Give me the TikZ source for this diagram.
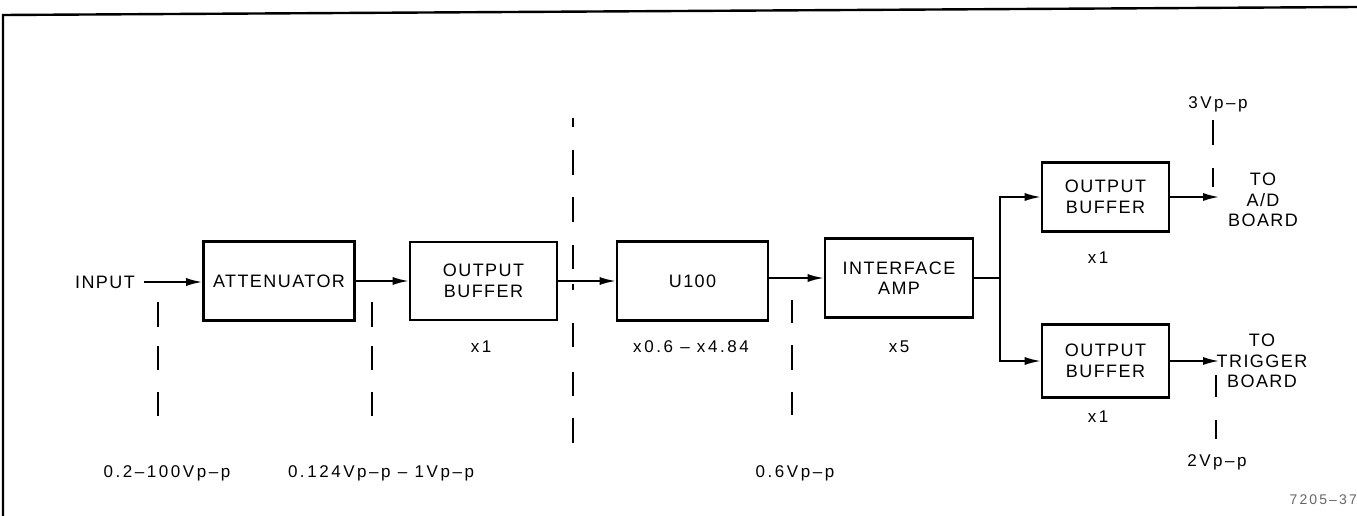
\documentclass[tikz,border=0pt]{standalone}
\usepackage{fontspec}
\setmainfont{Liberation Sans}
\newfontfamily\bxf[LetterSpace=8]{Liberation Sans}
\newfontfamily\lbf[LetterSpace=15]{Liberation Sans}
\usetikzlibrary{arrows.meta}
\tikzset{
  blk/.style={draw, line width=2.6pt, inner sep=0pt, align=center,
    font=\bxf\fontsize{18}{20.5}\selectfont},
  txt/.style={inner sep=0pt, align=center, font=\bxf\fontsize{18}{20.5}\selectfont},
  lbl/.style={inner sep=0pt, font=\lbf\fontsize{17}{18}\selectfont},
  arr/.style={line width=1.7pt, -{Latex[length=16pt,width=8pt]}},
  wire/.style={line width=1.7pt},
  dsh/.style={line width=1.8pt},
}
\begin{document}
\begin{tikzpicture}[x=1pt,y=-1pt]
\useasboundingbox (0,0) rectangle (1357,516);
% frame
\draw[line width=2.4pt] (3,516) -- (3,15) -- (1357,7);

% blocks
\node[blk, minimum width=151pt, minimum height=79pt] (att) at (279,281) {ATTENUATOR};
\node[blk, minimum width=147pt, minimum height=78pt] (ob1) at (483.5,281) {OUTPUT\\BUFFER};
\node[blk, minimum width=151pt, minimum height=79pt] (u100) at (692.5,281) {U100};
\node[blk, minimum width=148pt, minimum height=79pt] (ia) at (899,278) {INTERFACE\\AMP};
\node[blk, minimum width=127pt, minimum height=69pt] (ob2) at (1105.5,197) {OUTPUT\\BUFFER};
\node[blk, minimum width=127pt, minimum height=73pt] (ob3) at (1105.5,361) {OUTPUT\\BUFFER};

% text nodes
\node[txt] (in) at (105,282) {INPUT};
\node[txt] (ad) at (1263,200) {TO\\A/D\\BOARD};
\node[txt] (trig) at (1262,361) {TO\\TRIGGER\\BOARD};
\coordinate (inout) at (144,282);
\coordinate (j) at (1000,278);
\coordinate (adin) at (1219,197);
\coordinate (trin) at (1219,361);

% connectors
\draw[arr] (inout) -- (inout -| att.west);
\draw[arr] (att.east) -- (ob1.west);
\draw[arr] (ob1.east) -- (u100.west);
\draw[arr] (u100.east |- ia.west) -- (ia.west);
\draw[wire] (ia.east) -- (j);
\draw[arr] (j) |- (ob2.west);
\draw[arr] (j) |- (ob3.west);
\draw[arr] (ob2.east) -- (adin);
\draw[arr] (ob3.east) -- (trin);

% gain labels
\node[lbl] (g1) at (481,347) {x1};
\node[lbl] (g2) at (691,347) {x0.6 – x4.84};
\node[lbl] (g3) at (899,347) {x5};
\node[lbl] (g4) at (1098,258) {x1};
\node[lbl] (g5) at (1098,417) {x1};

% voltage labels
\node[lbl] (v1) at (167,473) {0.2–100Vp–p};
\node[lbl] (v2) at (381,473) {0.124Vp–p – 1Vp–p};
\node[lbl] (v3) at (795,473) {0.6Vp–p};
\node[lbl] (v4) at (1218,104) {3Vp–p};
\node[lbl] (v5) at (1217,462) {2Vp–p};
\node[inner sep=0pt, anchor=east, text=black!60, font=\lbf\fontsize{14}{15}\selectfont] (fig) at (1357,500) {7205–37};

% dashed separators
\foreach \a/\b in {302/327,346/370,392/416} {
  \draw[dsh] (158,\a) -- (158,\b);
  \draw[dsh] (372,\a) -- (372,\b);
}
\foreach \a/\b in {300/323,345/370,392/415}
  \draw[dsh] (792,\a) -- (792,\b);
\foreach \a/\b in {118/127,150/175,197/222,245/269,284/290,323/347,372/396,418/443}
  \draw[dsh] (573,\a) -- (573,\b);
\foreach \a/\b in {120/145,168/187}
  \draw[dsh] (1213,\a) -- (1213,\b);
\foreach \a/\b in {375/397,420/439}
  \draw[dsh] (1216,\a) -- (1216,\b);
\end{tikzpicture}
\end{document}
